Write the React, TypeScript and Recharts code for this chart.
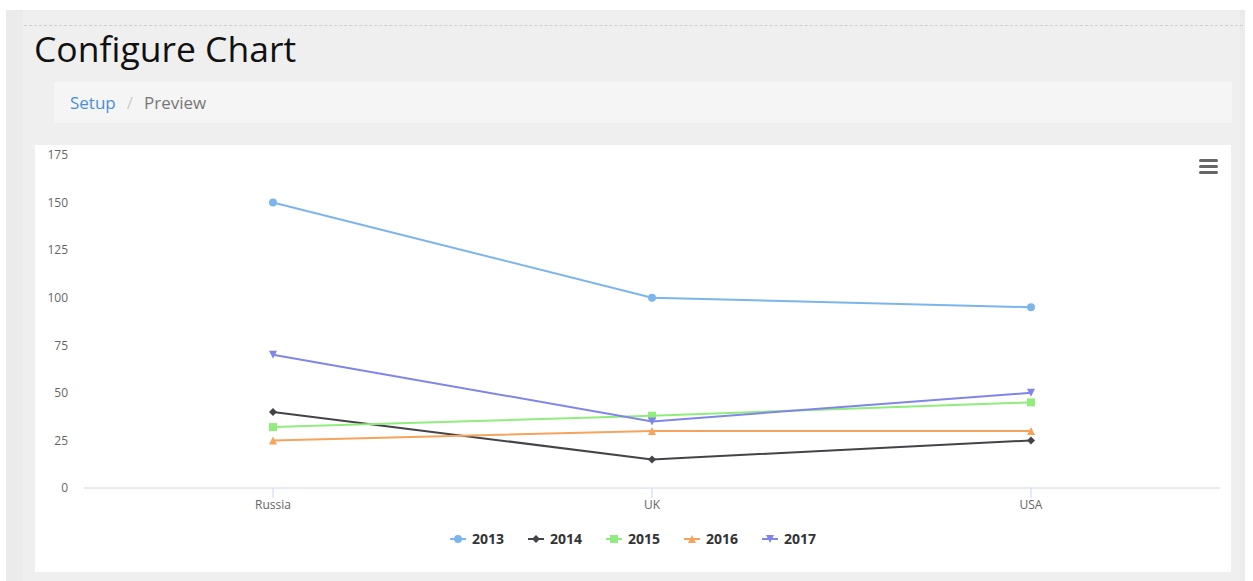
import React from 'react';
import { LineChart, Line, XAxis, YAxis, Legend } from 'recharts';

const categories = ['Russia', 'UK', 'USA'];
const years = ['2013', '2014', '2015', '2016', '2017'];
const values2013 = [150, 100, 95];
const values2014 = [40, 15, 25];
const values2015 = [32, 38, 45];
const values2016 = [25, 30, 30];
const values2017 = [70, 35, 50];
const yTicks = [0, 25, 50, 75, 100, 125, 150, 175];
const seriesColors = ['#7cb5ec', '#434348', '#90ed7d', '#f7a35c', '#8085e9'];
const seriesShapes = ['circle', 'diamond', 'square', 'triangle', 'triangle-down'];

const seriesValues = [values2013, values2014, values2015, values2016, values2017];
const data = categories.map((c, i) => {
  const row: any = { name: c };
  years.forEach((y, j) => {
    row[y] = seriesValues[j][i];
  });
  return row;
});

const FONT = '"Open Sans", "Noto Sans", sans-serif';

function MarkerShape({ cx, cy, shape, color, r = 4 }: any) {
  if (cx == null || cy == null) return null;
  switch (shape) {
    case 'circle':
      return <circle cx={cx} cy={cy} r={r} fill={color} />;
    case 'diamond':
      return <path d={`M${cx} ${cy - r}L${cx + r} ${cy}L${cx} ${cy + r}L${cx - r} ${cy}Z`} fill={color} />;
    case 'square':
      return <rect x={cx - r} y={cy - r} width={2 * r} height={2 * r} fill={color} />;
    case 'triangle':
      return <path d={`M${cx} ${cy - r}L${cx + r} ${cy + r}L${cx - r} ${cy + r}Z`} fill={color} />;
    case 'triangle-down':
      return <path d={`M${cx - r} ${cy - r}L${cx + r} ${cy - r}L${cx} ${cy + r}Z`} fill={color} />;
    default:
      return null;
  }
}

const renderLegend = (props: any) => {
  const payload = props.payload || [];
  return (
    <div
      style={{
        display: 'flex',
        justifyContent: 'center',
        alignItems: 'center',
        height: 20,
        fontFamily: FONT,
        fontSize: 14,
        fontWeight: 700,
        color: '#333',
      }}
    >
      {payload.map((entry: any, i: number) => {
        const idx = years.indexOf(String(entry.value));
        const color = seriesColors[idx];
        return (
          <div
            key={String(entry.value)}
            style={{ display: 'flex', alignItems: 'center', marginRight: i < payload.length - 1 ? 24 : 0 }}
          >
            <svg width={16} height={12} style={{ display: 'block' }}>
              <line x1={0} y1={6} x2={16} y2={6} stroke={color} strokeWidth={2} />
              <MarkerShape cx={8} cy={6} shape={seriesShapes[idx]} color={color} />
            </svg>
            <span style={{ marginLeft: 6, lineHeight: '20px' }}>{entry.value}</span>
          </div>
        );
      })}
    </div>
  );
};

export default function App() {
  return (
    <div
      style={{
        position: 'absolute',
        left: 0,
        top: 0,
        width: 1253,
        height: 581,
        background: '#fff',
        overflow: 'hidden',
        fontFamily: FONT,
      }}
    >
      <div style={{ position: 'absolute', left: 6, top: 10, width: 1239, height: 571, background: '#ebebeb' }} />
      <div style={{ position: 'absolute', left: 23, top: 10, width: 1217, height: 571, background: '#efefef' }} />
      <div style={{ position: 'absolute', left: 24, top: 25, width: 1219, borderTop: '1px dashed #cfcfcf' }} />
      <div
        style={{
          position: 'absolute',
          left: 34,
          top: 30.5,
          fontSize: 35.5,
          lineHeight: '35.5px',
          color: '#111',
          whiteSpace: 'nowrap',
        }}
      >
        Configure Chart
      </div>
      <div
        style={{
          position: 'absolute',
          left: 54,
          top: 82,
          width: 1178,
          height: 41,
          background: '#f5f5f5',
          boxSizing: 'border-box',
          paddingLeft: 16,
          fontSize: 17,
          lineHeight: '41px',
          whiteSpace: 'nowrap',
        }}
      >
        <span style={{ color: '#4a8fd9' }}>Setup</span>
        <span style={{ color: '#ccc', padding: '0 11px' }}>/</span>
        <span style={{ color: '#777' }}>Preview</span>
      </div>
      <div style={{ position: 'absolute', left: 35, top: 145, width: 1196, height: 427, background: '#fff' }}>
        <LineChart width={1196} height={427} data={data} margin={{ top: 10, right: 11, bottom: 54, left: 0 }}>
          <XAxis
            dataKey="name"
            interval={0}
            padding={{ left: 189, right: 189 }}
            axisLine={{ stroke: '#ccd6eb' }}
            tickLine={{ stroke: '#ccd6eb' }}
            tickSize={10}
            tickMargin={2}
            height={30}
            tick={{ fill: '#666', fontSize: 12, fontFamily: FONT }}
          />
          <YAxis
            domain={[0, 175]}
            ticks={yTicks}
            width={49}
            axisLine={false}
            tickLine={false}
            tickSize={0}
            tickMargin={16}
            tick={{ fill: '#666', fontSize: 12, fontFamily: FONT }}
          />
          <Legend
            verticalAlign="middle"
            align="center"
            layout="horizontal"
            content={renderLegend}
            wrapperStyle={{ top: 384, left: 0, width: 1196, height: 20 }}
          />
          {years.map((y, j) => (
            <Line
              key={y}
              type="linear"
              dataKey={y}
              name={y}
              stroke={seriesColors[j]}
              strokeWidth={2}
              isAnimationActive={false}
              activeDot={false}
              dot={(p: any) => (
                <MarkerShape
                  key={`${y}-${p.index}`}
                  cx={p.cx}
                  cy={p.cy}
                  shape={seriesShapes[j]}
                  color={seriesColors[j]}
                />
              )}
            />
          ))}
        </LineChart>
        <div style={{ position: 'absolute', left: 1164, top: 14, width: 19, height: 3, borderRadius: 1.5, background: '#666' }} />
        <div style={{ position: 'absolute', left: 1164, top: 20, width: 19, height: 3, borderRadius: 1.5, background: '#666' }} />
        <div style={{ position: 'absolute', left: 1164, top: 26, width: 19, height: 3, borderRadius: 1.5, background: '#666' }} />
      </div>
    </div>
  );
}
